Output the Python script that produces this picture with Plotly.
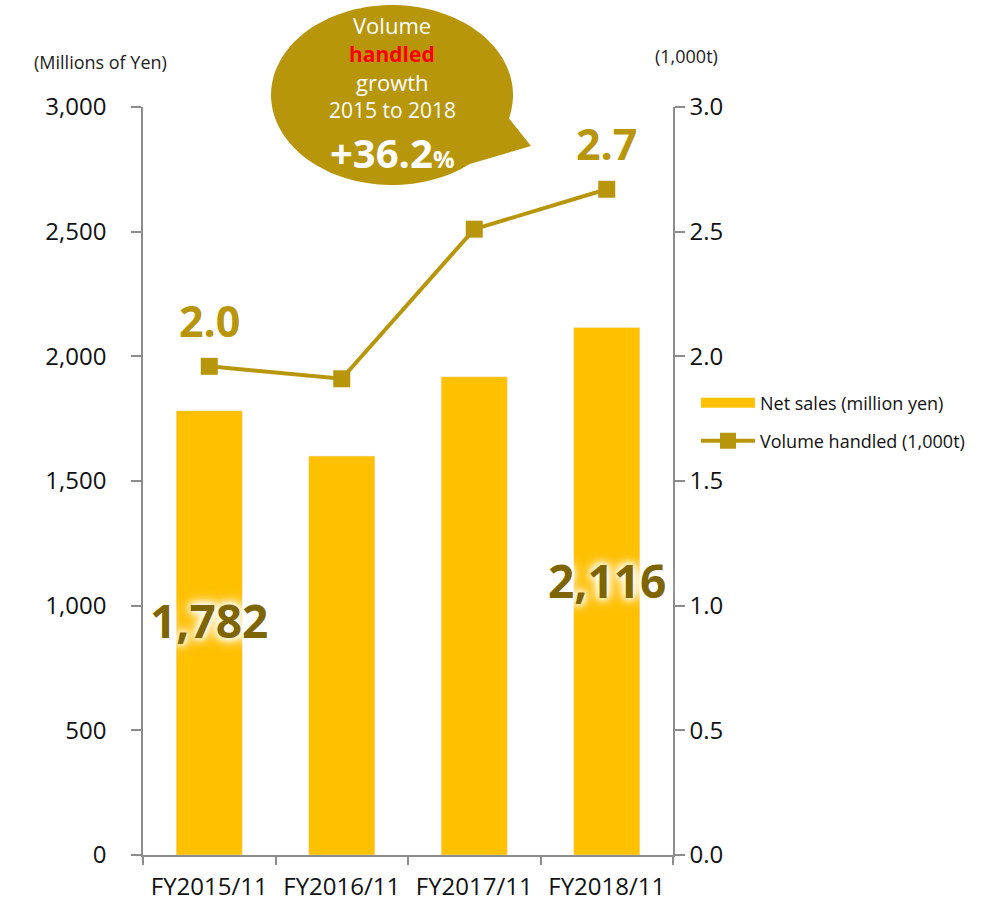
import numpy as np
import plotly.graph_objects as go

categories = ["FY2015/11", "FY2016/11", "FY2017/11", "FY2018/11"]
net_sales = [1782, 1600, 1918, 2116]
volume = [1.96, 1.91, 2.51, 2.67]
left_ticks = [0, 500, 1000, 1500, 2000, 2500, 3000]
right_ticks = [0.0, 0.5, 1.0, 1.5, 2.0, 2.5, 3.0]

W, H = 1008, 904
L, R, T, B = 143, 673, 107, 855
FONT = "Open Sans, Noto Sans, sans-serif"
GOLD = "#B8960C"
BAR = "#FFC000"
DARK = "#7F6500"
AX = "#8C8C8C"

def px(x):
    return (x - L) / (R - L)

def py(y):
    return (B - y) / (B - T)

fig = go.Figure()
fig.add_trace(go.Bar(x=categories, y=net_sales, name="Net sales (million yen)",
                     marker_color=BAR, width=0.5, yaxis="y", showlegend=False))
# legend swatch for the bars (wide rectangle like the original)
fig.add_trace(go.Scatter(x=[None], y=[None], name="Net sales (million yen)", mode="lines",
                         line=dict(color=BAR, width=14), legend="legend"))
fig.add_trace(go.Scatter(x=categories, y=volume, name="Volume handled (1,000t)",
                         mode="lines+markers", yaxis="y2", legend="legend2",
                         line=dict(color=GOLD, width=4),
                         marker=dict(symbol="square", size=17, color=GOLD)))

# speech bubble
cx, cy, rx, ry = 392, 95, 121, 90
ta, tb = np.deg2rad(15), np.deg2rad(50)
th = np.linspace(tb, ta + 2 * np.pi, 120)
pts = [(cx + rx * np.cos(t), cy + ry * np.sin(t)) for t in th]
pts.append((531, 146))
path = "M " + " L ".join(f"{px(a):.5f},{py(b):.5f}" for a, b in pts) + " Z"
fig.add_shape(type="path", path=path, xref="paper", yref="paper",
              fillcolor=GOLD, line=dict(width=0), layer="above")

def ann(text, x, y, size, color, bold=False, xanchor="center", **kw):
    fig.add_annotation(text=f"<b>{text}</b>" if bold else text, x=x, y=y,
                       xref=kw.pop("xref", "paper"), yref=kw.pop("yref", "paper"),
                       showarrow=False, xanchor=xanchor, yanchor="middle",
                       font=dict(family=FONT, size=size, color=color, **kw.pop("font", {})),
                       **kw)

ann("Volume", px(392), py(25), 22, "white")
ann("handled", px(392), py(54), 21, "#FF0000", bold=True)
ann("growth", px(392), py(82), 22, "white")
ann("2015 to 2018", px(392), py(110), 21, "white")
ann("+36.2<span style='font-size:24px'>%</span>", px(392), py(152), 40, "white", bold=True)

# axis titles
ann("(Millions of Yen)", px(100), py(62), 18, "#222222")
ann("(1,000t)", px(686), py(56), 18, "#222222")

glow = "0 0 6px #fff, 0 0 8px #fff, 0 0 12px #fff, 0 0 16px #fff"
ann(f"{net_sales[0]:,}", 0, py(620), 46, DARK, bold=True, xref="x", font=dict(shadow=glow))
ann(f"{net_sales[3]:,}", 3, py(580), 46, DARK, bold=True, xref="x", font=dict(shadow=glow))
for i in (0, 3):
    fig.add_annotation(text=f"<b>{volume[i]:.1f}</b>", x=categories[i], y=volume[i],
                       xref="x", yref="y2", yshift=46, showarrow=False,
                       font=dict(family=FONT, size=43, color=GOLD))

tickfont = dict(family=FONT, size=24, color="#111111")
axis_common = dict(showgrid=False, zeroline=False, showline=True, linecolor=AX,
                   linewidth=1.5, ticks="outside", tickcolor=AX, ticklen=10, tickwidth=1.5,
                   tickfont=tickfont, automargin=False)

legfont = dict(family=FONT, size=18, color="#111111")
fig.update_layout(
    width=W, height=H, margin=dict(l=L, r=W - R, t=T, b=H - B),
    plot_bgcolor="white", paper_bgcolor="white",
    xaxis=dict(type="category", showgrid=False, showline=True, linecolor=AX, linewidth=1.5,
               ticks="outside", tickson="boundaries", tickcolor=AX, ticklen=8, tickwidth=1.5,
               tickfont=tickfont, range=[-0.5, 3.5], ticklabelstandoff=9, automargin=False),
    yaxis=dict(range=[0, 3000], tickvals=left_ticks, ticklabelstandoff=20,
               ticktext=[f"{v:,}" for v in left_ticks], **axis_common),
    yaxis2=dict(range=[0, 3.0], overlaying="y", side="right", tickvals=right_ticks,
                ticktext=[f"{v:.1f}" for v in right_ticks], **axis_common),
    legend=dict(x=px(696), y=py(403), xanchor="left", yanchor="middle", itemwidth=54,
                font=legfont, bgcolor="rgba(0,0,0,0)"),
    legend2=dict(x=px(696), y=py(441), xanchor="left", yanchor="middle", itemwidth=54,
                 font=legfont, bgcolor="rgba(0,0,0,0)"),
    showlegend=True,
)

fig.write_html("out.html")
